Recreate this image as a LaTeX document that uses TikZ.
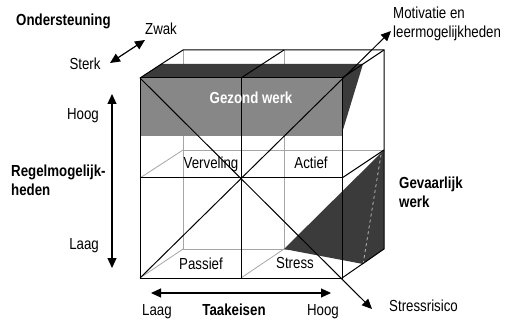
\documentclass[tikz,border=0pt]{standalone}
\usepackage{fontspec}
\setmainfont{Liberation Sans}[FakeStretch=0.83]
\usetikzlibrary{arrows.meta}

\begin{document}
\begin{tikzpicture}[
    x=1pt, y=-1pt,
    >={Triangle[length=10pt, width=9pt]},
    txt/.style={font=\fontsize{16}{19}\selectfont, inner sep=0pt},
    head/.style={txt, font=\fontsize{16}{19}\selectfont\bfseries},
    edge/.style={line width=1pt},
    hidden/.style={draw=black!35, line width=0.8pt},
    band/.style={fill=black!47},
    shade/.style={fill=black!77},
    arrow/.style={<->, line width=1.2pt},
    axis/.style={->, line width=1pt}
]
\useasboundingbox (0,0) rectangle (510,320);

% Front face
\coordinate (F00) at (140,78);
\coordinate (F10) at (241,78);
\coordinate (F20) at (342,78);
\coordinate (F01) at (140,178);
\coordinate (F21) at (342,178);
\coordinate (F02) at (140,278);
\coordinate (F12) at (241,278);
\coordinate (F22) at (342,278);
% Back face
\coordinate (B00) at (183,50);
\coordinate (B10) at (284,50);
\coordinate (B20) at (384,50);
\coordinate (B01) at (183,150);
\coordinate (B21) at (384,150);
\coordinate (B02) at (183,249);
\coordinate (B12) at (284,249);
\coordinate (B22) at (384,249);
% Band and wedge corners
\coordinate (T0) at (161,64);
\coordinate (T2) at (363,64);
\coordinate (G2) at (342,136);
\coordinate (G3) at (342,133);
\coordinate (H0) at (363,264);
\coordinate (H1) at (381,155);

% Hidden edges
\draw[hidden] (B00) -- (B02) -- (B22);
\draw[hidden] (B10) -- (B12);
\draw[hidden] (B01) -- (B21);
\draw[hidden] (F01) -- (B01);
\draw[hidden] (F02) -- (B02);
\draw[hidden] (F12) -- (B12);

% Gezond werk
\fill[band] (F00) rectangle (G2);
\fill[shade] (F00) -- (T0) -- (T2) -- (F20) -- cycle;
\fill[shade] (F20) -- (T2) -- (G3) -- cycle;

% Gevaarlijk werk
\fill[shade] (B12) -- (B21) -- (B22) -- (H0) -- cycle;
\draw[white, dashed, line width=0.5pt] (H0) -- (H1);

% Visible edges
\draw[edge] (F00) rectangle (F22);
\draw[edge] (F10) -- (F12);
\draw[edge] (F01) -- (F21);
\draw[edge] (F00) -- (B00) -- (B20) -- (B22) -- (F22);
\draw[edge] (F10) -- (B10);
\draw[edge] (F20) -- (B20);
\draw[edge] (F21) -- (B21);

% Labels
\node[head, anchor=base west] (support) at (16,26) {Ondersteuning};
\node[txt, anchor=base] (weak) at (161,35) {Zwak};
\node[txt, anchor=base] (strong) at (85,70) {Sterk};
\node[txt, anchor=base east] (high) at (99,120) {Hoog};
\node[head, anchor=base west, align=left] (control) at (11,195) {Regelmogelijk-\\heden};
\node[txt, anchor=base east] (low) at (99,249) {Laag};
\node[txt, anchor=base] (lowdemand) at (157,315) {Laag};
\node[head, anchor=base] (demands) at (234,315) {Taakeisen};
\node[txt, anchor=base] (highdemand) at (323,315) {Hoog};
\node[txt, anchor=base west] (risk) at (389,311) {Stressrisico};
\node[txt, anchor=base west, align=left] (motiv) at (393,38) {Motivatie en\\leermogelijkheden};
\node[head, anchor=base west, align=left] (danger) at (399,207) {Gevaarlijk\\werk};
\node[head, text=white, anchor=base] (healthy) at (251,104) {Gezond werk};
\node[txt, anchor=base] (bored) at (211,168) {Verveling};
\node[txt, anchor=base] (active) at (311,168) {Actief};
\node[txt, anchor=base] (passive) at (201,269) {Passief};
\node[txt, anchor=base] (stress) at (295,268) {Stress};

% Arrows
\coordinate (sup1) at (110,63);
\coordinate (sup2) at (145,40);
\coordinate (ctl1) at (112,94);
\coordinate (ctl2) at (112,268);
\coordinate (dem1) at (151,293);
\coordinate (dem2) at (331,293);
\coordinate (risktip) at (372,309);
\coordinate (motivtip) at (391,31);
\draw[arrow] (sup1) -- (sup2);
\draw[arrow] (ctl1) -- (ctl2);
\draw[arrow] (dem1) -- (dem2);
\draw[axis] (F00) -- (risktip);
\draw[axis] (F02) -- (motivtip);

\end{tikzpicture}
\end{document}
